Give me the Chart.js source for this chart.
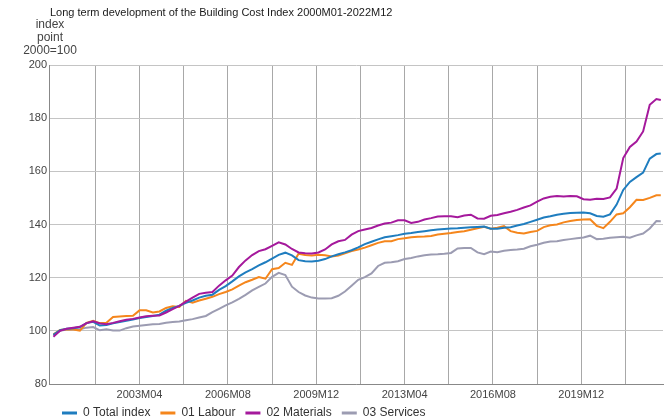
<!DOCTYPE html>
<html>
<head>
<meta charset="utf-8">
<script src="https://cdn.jsdelivr.net/npm/chart.js@4.4.1/dist/chart.umd.min.js"></script>
<style>
html, body { margin: 0; padding: 0; background: #fff; }
</style>
</head>
<body>
<canvas id="bci" width="666" height="419"></canvas>
<script>
"use strict";

var chartTitle = "Long term development of the Building Cost Index 2000M01-2022M12";
var axisCaption = ["index", "point", "2000=100"];

// quarterly readings 2000M01 ... 2022M10, plus 2022M12
var periods = [];
for (var yr = 2000; yr <= 2022; yr++) {
    ["01", "04", "07", "10"].forEach(function (mm) { periods.push(yr + "M" + mm); });
}
periods.push("2022M12");

var seriesNames = ["0 Total index", "01 Labour", "02 Materials", "03 Services"];
var seriesColors = ["#1f7dbf", "#f5861c", "#a5199c", "#9c9cb2"];

var totalIndex = [
    98.5, 100.2, 100.8, 101.0, 101.4, 102.9, 103.4, 102.0, 102.2, 102.8, 103.3, 103.8,
    104.3, 104.8, 105.2, 105.6, 106.1, 107.6, 108.6, 109.4, 110.5, 111.4, 112.5, 113.2,
    113.6, 115.4, 116.8, 118.6, 120.5, 122.0, 123.2, 124.6, 125.8, 127.2, 128.6, 129.4,
    128.4, 126.6, 126.2, 126.1, 126.4, 127.0, 128.0, 128.8, 129.5, 130.3, 131.4, 132.6,
    133.5, 134.4, 135.2, 135.6, 136.0, 136.5, 136.8, 137.2, 137.5, 137.8, 138.1, 138.3,
    138.5, 138.6, 138.8, 139.0, 139.1, 139.2, 138.4, 138.4, 138.8, 139.0, 139.6, 140.2,
    141.0, 141.8, 142.6, 143.1, 143.7, 144.0, 144.3, 144.4, 144.5, 144.2, 143.2, 142.9,
    143.8, 147.5, 153.0, 156.0, 157.8, 159.5, 164.8, 166.5, 166.7
];
var labour = [
    98.7, 100.3, 100.6, 100.5, 100.1, 103.0, 103.8, 102.9, 103.0, 105.2, 105.4, 105.6,
    105.7, 107.7, 107.7, 106.9, 107.3, 108.6, 109.2, 109.0, 111.3, 110.6, 111.4, 112.1,
    112.8, 113.8, 114.6, 115.6, 117.0, 118.3, 119.2, 120.2, 119.6, 123.2, 123.6, 125.6,
    124.8, 129.0, 128.5, 128.3, 128.6, 128.4, 128.0, 128.3, 129.2, 130.0, 130.6, 131.3,
    132.2, 133.1, 133.7, 133.7, 134.5, 134.8, 135.2, 135.4, 135.5, 135.7, 136.2, 136.5,
    136.8, 137.2, 137.5, 138.0, 138.6, 139.1, 138.4, 138.8, 139.4, 137.5, 136.9, 136.6,
    137.2, 137.6, 139.0, 139.7, 140.0, 140.8, 141.3, 141.7, 141.9, 142.0, 139.5, 138.6,
    141.0, 143.8, 144.2, 146.5, 149.3, 149.2, 150.0, 151.0, 151.0
];
var materials = [
    97.8, 100.0, 100.8, 101.2, 101.5, 102.9, 103.6, 102.8, 102.5, 103.0, 103.6, 104.2,
    104.5, 105.0, 105.5, 105.7, 105.8, 106.9, 108.2, 109.4, 111.0, 112.5, 113.9, 114.3,
    114.6, 117.0, 119.0, 120.8, 124.0, 126.5, 128.5, 130.0, 130.7, 132.0, 133.3, 132.5,
    130.8, 129.5, 129.2, 129.1, 129.5, 130.6, 132.5, 133.7, 134.2, 136.2, 137.5, 138.1,
    138.7, 139.6, 140.4, 140.7, 141.6, 141.6, 140.6, 141.0, 141.9, 142.4, 143.0, 143.1,
    143.1, 142.7, 143.4, 143.7, 142.3, 142.2, 143.3, 143.6, 144.2, 144.8, 145.5, 146.4,
    147.2, 148.6, 149.8, 150.4, 150.7, 150.5, 150.7, 150.6, 149.5, 149.3, 149.7, 149.6,
    150.2, 153.5, 165.0, 169.2, 171.2, 175.0, 185.0, 187.2, 186.8
];
var services = [
    98.5, 100.1, 100.4, 100.6, 100.6, 101.2, 101.4, 100.2, 100.6, 100.1, 100.1, 101.0,
    101.6, 101.9, 102.2, 102.5, 102.6, 103.0, 103.3, 103.5, 104.0, 104.4, 105.0, 105.6,
    107.0, 108.3, 109.6, 110.7, 112.0, 113.5, 115.2, 116.5, 117.8, 120.3, 121.8, 121.0,
    116.6, 114.6, 113.3, 112.5, 112.2, 112.2, 112.3, 113.2, 114.8, 117.0, 119.2, 120.2,
    121.6, 124.4, 125.6, 125.8, 126.2, 127.0, 127.4, 128.0, 128.4, 128.7, 128.8, 129.0,
    129.3, 131.0, 131.2, 131.2, 129.5, 128.8, 129.8, 129.6, 130.1, 130.4, 130.6, 130.9,
    131.8, 132.4, 133.1, 133.6, 133.7, 134.2, 134.5, 134.8, 135.1, 135.8, 134.5, 134.6,
    135.0, 135.2, 135.4, 135.0, 135.9, 136.6, 138.5, 141.3, 141.2
];

var yTicks = [80, 100, 120, 140, 160, 180, 200];
// month indices of the vertical grid lines, every 20 months from 2001M08
var gridMonths = [19, 39, 59, 79, 99, 119, 139, 159, 179, 199, 219, 239, 259];
var labelledMonths = [39, 79, 119, 159, 199, 239];

function monthIndex(p) {
    return (parseInt(p.slice(0, 4), 10) - 2000) * 12 + parseInt(p.slice(5), 10) - 1;
}
function monthLabel(m) {
    var mm = m % 12 + 1;
    return (2000 + Math.floor(m / 12)) + "M" + (mm < 10 ? "0" + mm : mm);
}
function points(values) {
    return values.map(function (v, i) { return { x: monthIndex(periods[i]), y: v }; });
}

var font = "'Liberation Sans', Arial, sans-serif";

var captionPlugin = {
    id: "caption",
    afterLayout: function (chart) {
        // legend sits a little higher and to the right than the default layout puts it
        var lg = chart.legend;
        lg.top = 397;
        lg.bottom = 419;
        lg.left += 3;
    },
    afterDraw: function (chart) {
        var c = chart.ctx;
        c.save();
        c.textBaseline = "middle";
        c.fillStyle = "#1a1a1a";
        c.font = "11px " + font;
        c.textAlign = "left";
        c.fillText(chartTitle, 50, 13);
        c.fillStyle = "#444";
        c.font = "12px " + font;
        c.textAlign = "center";
        axisCaption.forEach(function (t, i) { c.fillText(t, 50, 25 + i * 13); });
        c.restore();
    }
};

var allSeries = [totalIndex, labour, materials, services];

new Chart(document.getElementById("bci"), {
    type: "line",
    data: {
        datasets: allSeries.map(function (vals, i) {
            return {
                label: seriesNames[i],
                data: points(vals),
                borderColor: seriesColors[i],
                backgroundColor: seriesColors[i],
                borderWidth: 2,
                pointRadius: 0,
                tension: 0,
                order: i === 2 ? 0 : i + 1
            };
        })
    },
    options: {
        responsive: false,
        animation: false,
        layout: { padding: { top: 65, left: 0, right: 3, bottom: 0 } },
        plugins: {
            title: { display: false },
            tooltip: { enabled: false },
            legend: {
                position: "bottom",
                align: "start",
                fullSize: false,
                maxHeight: 15,
                labels: {
                    boxWidth: 15,
                    boxHeight: 3,
                    padding: 10,
                    color: "#333",
                    font: { family: font, size: 12 },
                    generateLabels: function (chart) {
                        var items = Chart.defaults.plugins.legend.labels.generateLabels(chart);
                        items.sort(function (a, b) { return a.datasetIndex - b.datasetIndex; });
                        return items.map(function (l) { l.lineWidth = 0; return l; });
                    }
                }
            }
        },
        scales: {
            x: {
                type: "linear",
                min: -2,
                max: 276,
                afterBuildTicks: function (axis) {
                    axis.ticks = gridMonths.map(function (m) { return { value: m }; });
                },
                afterFit: function (axis) { axis.height = 20; },
                ticks: {
                    autoSkip: false,
                    maxRotation: 0,
                    padding: 4,
                    color: "#444",
                    font: { family: font, size: 11 },
                    callback: function (v) { return labelledMonths.indexOf(v) >= 0 ? monthLabel(v) : ""; }
                },
                grid: { color: "#a8a8a8", drawTicks: false },
                border: { color: "#888" }
            },
            y: {
                min: 80,
                max: 200,
                afterBuildTicks: function (axis) {
                    axis.ticks = yTicks.map(function (v) { return { value: v }; });
                },
                afterFit: function (axis) { axis.width = 49; },
                ticks: {
                    padding: 2,
                    color: "#444",
                    font: { family: font, size: 11 }
                },
                grid: { color: "#c4c4c4", drawTicks: false },
                border: { color: "#888" }
            }
        }
    },
    plugins: [captionPlugin]
});
</script>
</body>
</html>
